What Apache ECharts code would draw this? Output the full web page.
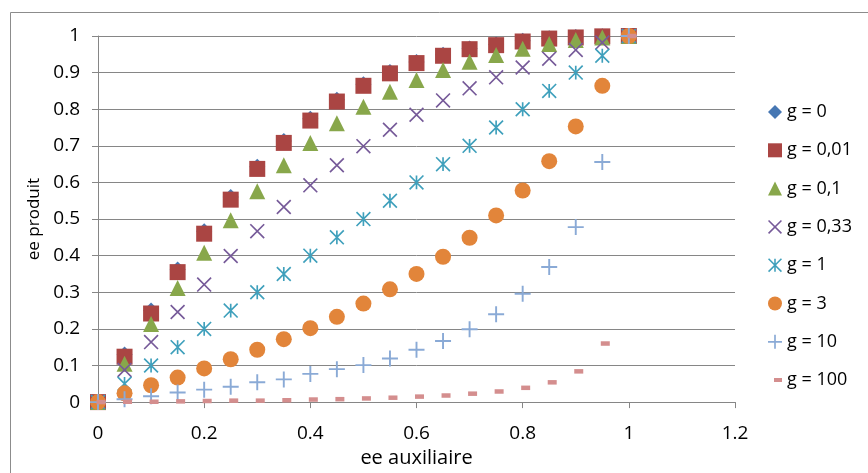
<!DOCTYPE html>
<html><head><meta charset="utf-8">
<script src="https://cdn.jsdelivr.net/npm/echarts@6/dist/echarts.min.js"></script>
<style>html,body{margin:0;padding:0;background:#fff}#c{width:868px;height:473px}</style>
</head><body><div id="c"></div>
<script>
// ---- data ----
const xValues = [0,0.05,0.1,0.15,0.2,0.25,0.3,0.35,0.4,0.45,0.5,0.55,0.6,0.65,0.7,0.75,0.8,0.85,0.9,0.95,1];
const seriesNames = ['g = 0','g = 0,01','g = 0,1','g = 0,33','g = 1','g = 3','g = 10','g = 100'];
const g0    = [0,0.130,0.250,0.362,0.467,0.560,0.643,0.713,0.774,0.826,0.868,0.902,0.929,0.949,0.966,0.977,0.987,0.994,0.997,0.999,1];
const g001  = [0,0.124,0.242,0.355,0.460,0.553,0.637,0.708,0.769,0.821,0.864,0.898,0.926,0.946,0.964,0.975,0.985,0.993,0.996,0.999,1];
const g01   = [0,0.105,0.213,0.312,0.408,0.497,0.576,0.647,0.708,0.762,0.807,0.848,0.880,0.907,0.930,0.948,0.965,0.978,0.989,0.996,1];
const g033  = [0,0.088,0.164,0.246,0.321,0.399,0.467,0.533,0.592,0.647,0.699,0.744,0.785,0.824,0.857,0.887,0.914,0.938,0.962,0.982,1];
const g1    = [0,0.05,0.1,0.15,0.2,0.25,0.3,0.35,0.4,0.45,0.5,0.55,0.6,0.65,0.7,0.75,0.8,0.85,0.9,0.946,1];
const g3    = [0,0.024,0.046,0.067,0.092,0.117,0.143,0.172,0.202,0.233,0.269,0.308,0.350,0.397,0.449,0.510,0.578,0.658,0.753,0.864,1];
const g10   = [0,0.008,0.016,0.026,0.034,0.042,0.054,0.062,0.077,0.090,0.101,0.119,0.143,0.167,0.199,0.240,0.296,0.369,0.478,0.656,1];
const g100  = [0,0.001,0.001,0.002,0.003,0.004,0.004,0.005,0.007,0.008,0.010,0.012,0.015,0.018,0.023,0.029,0.039,0.054,0.084,0.160,1];
const xTickLabels = ['0','0.2','0.4','0.6','0.8','1','1.2'];
const yTickLabels = ['0','0.1','0.2','0.3','0.4','0.5','0.6','0.7','0.8','0.9','1'];
const xTitle = 'ee auxiliaire';
const yTitle = 'ee produit';

// ---- symbol shapes ----
function barsPath(segs, h) {
  let s = 'path://';
  segs.forEach(([x1,y1,x2,y2]) => {
    const L = Math.hypot(x2-x1, y2-y1), dx = (x2-x1)/L, dy = (y2-y1)/L;
    const nx = -dy*h, ny = dx*h;
    const p = [[x1+nx,y1+ny],[x2+nx,y2+ny],[x2-nx,y2-ny],[x1-nx,y1-ny]];
    s += 'M' + p.map(q => q[0].toFixed(2)+','+q[1].toFixed(2)).join(' L') + ' Z ';
  });
  return s;
}
const SYM_X = barsPath([[0,0,100,100],[100,0,0,100]], 6);
const SYM_STAR = barsPath([[0,0,100,100],[100,0,0,100],[50,0,50,100]], 6);
const SYM_PLUS = barsPath([[50,0,50,100],[0,50,100,50]], 6);
const LEGEND_DASH = 'path://M0,0 L0.01,0 L0,0.01 Z M14,14 L13.99,14 L14,13.99 Z M6,5 L14,5 L14,9 L6,9 Z';

const font = 'Open Sans';
const styles = [
  {data:g0,   symbol:'diamond',  size:16, color:'#4677B3'},
  {data:g001, symbol:'rect',     size:16, color:'#AA4543'},
  {data:g01,  symbol:'triangle', size:16, color:'#88A74B'},
  {data:g033, symbol:SYM_X,      size:15, color:'#765A99'},
  {data:g1,   symbol:SYM_STAR,   size:15, color:'#3FA0BC'},
  {data:g3,   symbol:'circle',   size:16, color:'#E2853A'},
  {data:g10,  symbol:SYM_PLUS,   size:16, color:'#8AAAD6'},
  {data:g100, symbol:'rect',     size:[9,4.5], color:'#D48E8E', offset:[3,0]}
];

const series = styles.map((s, k) => ({
  name: seriesNames[k],
  type: 'scatter',
  symbol: s.symbol,
  symbolSize: s.size,
  symbolOffset: s.offset || [0,0],
  itemStyle: {color: s.color, opacity: 1},
  emphasis: {disabled: true},
  data: xValues.map((x, i) => [x, s.data[i]])
}));

const chart = echarts.init(document.getElementById('c'), null, {renderer:'canvas'});
chart.setOption({
  animation: false,
  backgroundColor: '#fff',
  grid: {left: 98, top: 36, right: 133, bottom: 70, containLabel: false},
  xAxis: {
    type: 'value', min: 0, max: 1.2, interval: 0.2,
    name: xTitle, nameLocation: 'middle', nameGap: 41,
    nameTextStyle: {fontFamily: font, fontSize: 20, color: '#000'},
    axisLine: {show: true, onZero: false, lineStyle: {color: '#868686', width: 1}},
    axisTick: {show: true, inside: false, length: 6, lineStyle: {color: '#868686'}},
    splitLine: {show: false},
    axisLabel: {margin: 22, fontFamily: font, fontSize: 19, color: '#000',
      formatter: v => xTickLabels[Math.round(v / 0.2)]}
  },
  yAxis: {
    type: 'value', min: 0, max: 1, interval: 0.1,
    name: yTitle, nameLocation: 'middle', nameGap: 50, nameRotate: 90,
    nameTextStyle: {fontFamily: font, fontSize: 17, color: '#000'},
    axisLine: {show: true, onZero: false, lineStyle: {color: '#868686', width: 1}},
    axisTick: {show: true, inside: false, length: 6, lineStyle: {color: '#868686'}},
    splitLine: {show: true, lineStyle: {color: '#868686', width: 1}},
    axisLabel: {margin: 18, fontFamily: font, fontSize: 19, color: '#000',
      formatter: v => yTickLabels[Math.round(v / 0.1)]}
  },
  legend: {
    orient: 'vertical', left: 768, top: 102, padding: 0,
    itemWidth: 14, itemHeight: 14, itemGap: 18.3,
    selectedMode: false,
    textStyle: {fontFamily: font, fontSize: 18, color: '#000', lineHeight: 20},
    data: seriesNames.map((n, k) => k === 7 ? {name: n, icon: LEGEND_DASH} : {name: n})
  },
  graphic: [{
    type: 'rect', silent: true, z: -10,
    shape: {x: 10.5, y: 12.5, width: 900, height: 500},
    style: {fill: 'none', stroke: '#8c8c8c', lineWidth: 1}
  }],
  series: series
});
</script>
</body></html>
